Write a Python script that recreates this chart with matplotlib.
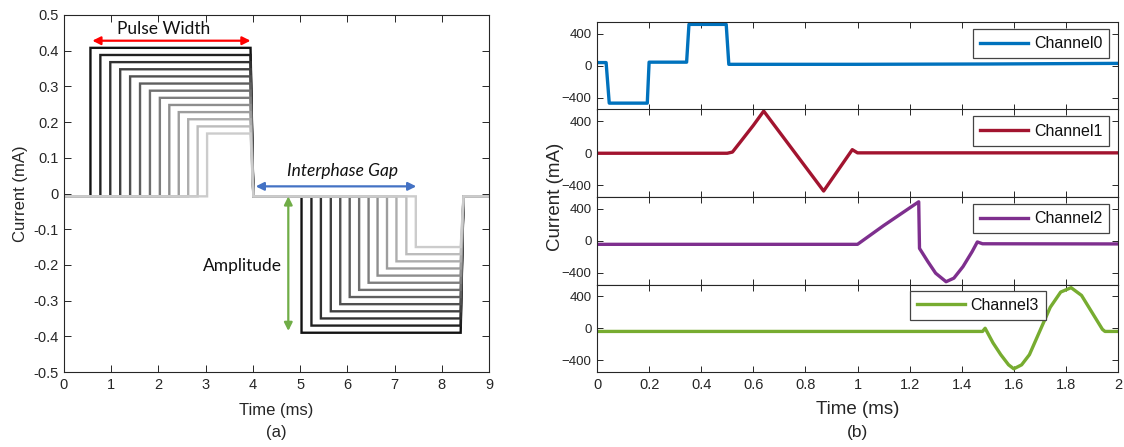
import matplotlib
matplotlib.use('Agg')
import matplotlib.pyplot as plt

plt.rcParams['font.family'] = ['Liberation Sans', 'DejaVu Sans']

# ---- panel (a): stimulation pulse family ----
pos_start = [0.56, 0.77, 0.98, 1.19, 1.40, 1.61, 1.82, 2.03, 2.23, 2.43, 2.63, 2.83, 3.03]
pos_amp = [0.408, 0.388, 0.368, 0.348, 0.328, 0.308, 0.288, 0.268, 0.248, 0.228, 0.208, 0.188, 0.168]
neg_start = [5.03, 5.24, 5.44, 5.65, 5.85, 6.05, 6.25, 6.45, 6.64, 6.84, 7.04, 7.25, 7.45]
neg_amp = [-0.39, -0.37, -0.35, -0.33, -0.31, -0.29, -0.27, -0.25, -0.23, -0.21, -0.19, -0.17, -0.15]
pos_end = 3.95
pos_fall = 4.01
neg_end = 8.40
neg_rise = 8.46
baseline = -0.008
t_max = 9.0

# ---- panel (b): measured channel currents ----
ch0_t = [0, 0.035, 0.047, 0.193, 0.200, 0.344, 0.353, 0.496, 0.506, 1.0, 1.5, 2.0]
ch0_v = [40, 40, -470, -470, 45, 45, 520, 520, 18, 18, 22, 30]

ch1_t = [0, 0.50, 0.52, 0.55, 0.60, 0.64, 0.87, 0.98, 1.0, 2.0]
ch1_v = [0, 0, 15, 140, 350, 530, -475, 45, 5, 5]

ch2_t = [0, 1.0, 1.1, 1.235, 1.238, 1.27, 1.30, 1.34, 1.37, 1.405, 1.44, 1.46, 1.48, 2.0]
ch2_v = [-45, -45, 190, 490, -96, -262, -408, -515, -470, -325, -137, -15, -38, -40]

ch3_t = [0, 1.48, 1.49, 1.52, 1.55, 1.58, 1.60, 1.63, 1.66, 1.70, 1.74, 1.78, 1.82, 1.86, 1.90, 1.94, 1.95, 2.0]
ch3_v = [-40, -40, 0, -183, -332, -460, -510, -460, -332, -34, 264, 455, 510, 413, 200, -13, -40, -40]

channels = [('Channel0', ch0_t, ch0_v, '#0072BD'),
            ('Channel1', ch1_t, ch1_v, '#A2142F'),
            ('Channel2', ch2_t, ch2_v, '#7E2F8E'),
            ('Channel3', ch3_t, ch3_v, '#77AC30')]

W, H = 1124, 447
fig = plt.figure(figsize=(W / 100, H / 100), dpi=100)
axcol = '#262626'

def px_ax(x0, y0, x1, y1):
    # pixel box (top-left origin) -> axes
    return fig.add_axes([x0 / W, 1 - y1 / H, (x1 - x0) / W, (y1 - y0) / H])

def matlab_style(ax, size=10, length=4.5):
    ax.tick_params(direction='in', top=True, right=True, length=length, width=0.7,
                   colors=axcol, labelsize=size, pad=4)
    for s in ax.spines.values():
        s.set_color(axcol)
        s.set_linewidth(0.8)

# ---------------- (a) ----------------
ax = px_ax(64, 15, 489, 372)
n = len(pos_start)
for i in range(n):
    g = 0.07 + 0.73 * i / (n - 1)
    xs = [0, pos_start[i], pos_start[i], pos_end, pos_fall, neg_start[i], neg_start[i], neg_end, neg_rise, t_max]
    ys = [baseline, baseline, pos_amp[i], pos_amp[i], baseline, baseline, neg_amp[i], neg_amp[i], baseline, baseline]
    ax.plot(xs, ys, color=(g, g, g), lw=1.7, solid_joinstyle='miter')

ax.set_xlim(0, 9)
ax.set_ylim(-0.5, 0.5)
ax.set_xticks(range(10))
yt = [-0.5, -0.4, -0.3, -0.2, -0.1, 0, 0.1, 0.2, 0.3, 0.4, 0.5]
ax.set_yticks(yt)
ax.set_yticklabels(['0' if v == 0 else ('%g' % v) for v in yt])
matlab_style(ax, size=10.5, length=5)
ax.set_xlabel('Time (ms)', fontsize=12, color=axcol, labelpad=8)
ax.set_ylabel('Current (mA)', fontsize=12, color=axcol, labelpad=4)

ann = ['Lato', 'DejaVu Sans']
ax.annotate('', xy=(0.6, 0.428), xytext=(3.95, 0.428),
            arrowprops=dict(arrowstyle='<|-|>', color='#FF0000', lw=1.6, shrinkA=0, shrinkB=0,
                            mutation_scale=12))
ax.text(2.12, 0.462, 'Pulse Width', ha='center', va='center', fontsize=12.5, family=ann, color='#111111')
ax.annotate('', xy=(4.06, 0.02), xytext=(7.46, 0.02),
            arrowprops=dict(arrowstyle='<|-|>', color='#4472C4', lw=1.6, shrinkA=0, shrinkB=0,
                            mutation_scale=12))
ax.text(5.9, 0.063, 'Interphase Gap', ha='center', va='center', fontsize=12.5, family=ann,
        style='italic', color='#111111')
ax.annotate('', xy=(4.75, -0.008), xytext=(4.75, -0.385),
            arrowprops=dict(arrowstyle='<|-|>', color='#70AD47', lw=1.6, shrinkA=0, shrinkB=0,
                            mutation_scale=12))
ax.text(4.62, -0.204, 'Amplitude', ha='right', va='center', fontsize=12.5, family=ann, color='#111111')

fig.text(276 / W, 1 - 433 / H, '(a)', ha='center', va='center', fontsize=12, color=axcol)

# ---------------- (b) ----------------
tops = [22, 109.5, 197, 284.5]
hgt = 87.5
axes_b = []
for k, (name, t, v, c) in enumerate(channels):
    a = px_ax(597, tops[k], 1118, tops[k] + hgt)
    a.plot(t, v, color=c, lw=2.4, label=name)
    a.set_xlim(0, 2)
    a.set_ylim(-550, 550)
    a.set_yticks([-400, 0, 400])
    a.set_xticks([0, 0.2, 0.4, 0.6, 0.8, 1.0, 1.2, 1.4, 1.6, 1.8, 2.0])
    matlab_style(a, size=9.5, length=4)
    if k < 3:
        a.tick_params(labelbottom=False)
        anchor = (0.9835, 0.92)
    else:
        a.set_xticklabels(['0', '0.2', '0.4', '0.6', '0.8', '1', '1.2', '1.4', '1.6', '1.8', '2'])
        a.tick_params(axis='x', labelsize=10.5)
        anchor = (0.862, 0.93)
    leg = a.legend(loc='upper right', bbox_to_anchor=anchor, borderaxespad=0,
                   handlelength=3.0, handletextpad=0.35, borderpad=0.45, fontsize=11.5,
                   fancybox=False, framealpha=1, edgecolor='#444444')
    leg.get_frame().set_linewidth(0.9)
    for txt in leg.get_texts():
        txt.set_color('#111111')
    axes_b.append(a)

axes_b[-1].set_xlabel('Time (ms)', fontsize=13.5, color=axcol, labelpad=7)
fig.text(556 / W, 1 - 197 / H, 'Current (mA)', rotation=90, ha='center', va='center',
         fontsize=13.5, color=axcol)
fig.text(858 / W, 1 - 433 / H, '(b)', ha='center', va='center', fontsize=12.5, color=axcol)

fig.savefig('out.png', dpi=100)
